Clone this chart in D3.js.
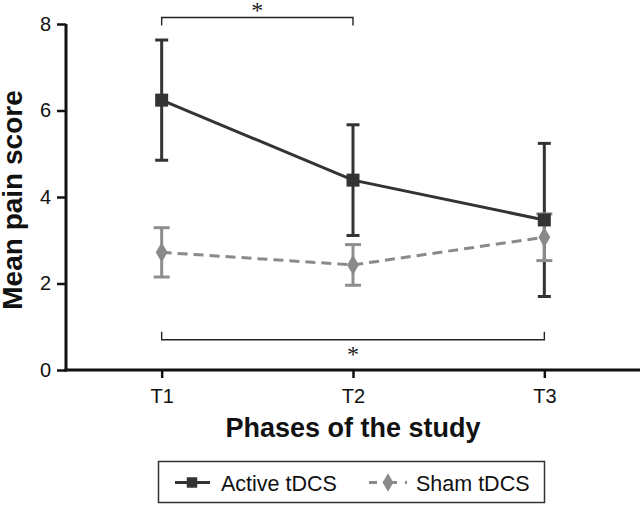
<!DOCTYPE html>
<html>
<head>
<meta charset="utf-8">
<script src="https://cdn.jsdelivr.net/npm/d3@7"></script>
<style>
  html, body { margin: 0; padding: 0; background: #fff; }
  svg { display: block; font-family: "Liberation Sans", Arial, Helvetica, sans-serif; }
</style>
</head>
<body>
<svg id="chart" width="642" height="505"></svg>
<script>
// ---- data ----
const categories = ["T1", "T2", "T3"];
const activeMean = [6.24, 4.39, 3.47];
const activeErr  = [1.39, 1.28, 1.77];
const shamMean   = [2.72, 2.43, 3.07];
const shamErr    = [0.57, 0.47, 0.54];
const yTicks = [0, 2, 4, 6, 8];
const seriesNames = ["Active tDCS", "Sham tDCS"];
const brackets = [
  { from: "T1", to: "T2", level: 8.15, dir: 1, label: "*" },
  { from: "T1", to: "T3", level: 0.70, dir: -1, label: "*" }
];

// ---- layout ----
const svg = d3.select("#chart");
const x = d3.scalePoint().domain(categories).range([66, 640]).padding(0.5);
const y = d3.scaleLinear().domain([0, 8]).range([370, 24]);

const activeColor = "#333333";
const shamColor = "#8a8a8a";
const shamErrColor = "#8e8e8e";
const axisColor = "#111111";

// axes (ticks + labels from d3.axis; axis lines drawn from the scale ranges)
const yAxis = d3.axisLeft(y).tickValues(yTicks).tickSize(9).tickSizeOuter(0).tickPadding(6);
const gy = svg.append("g").attr("transform", "translate(66,0)").call(yAxis);
const xAxis = d3.axisBottom(x).tickSize(8).tickSizeOuter(0).tickPadding(11);
const gx = svg.append("g").attr("transform", "translate(0,370)").call(xAxis);
[gx, gy].forEach(g => {
  g.select(".domain").remove();
  g.attr("font-size", 20).attr("font-family", "Liberation Sans, Arial, sans-serif");
  g.selectAll(".tick line").attr("stroke", axisColor).attr("stroke-width", 2.5);
  g.selectAll(".tick text").attr("fill", axisColor);
});
const axisLines = svg.append("g").attr("stroke", axisColor).attr("stroke-width", 3).attr("fill", "none");
axisLines.append("line")
  .attr("x1", x.range()[0]).attr("x2", x.range()[0])
  .attr("y1", y.range()[0] + 1.5).attr("y2", y.range()[1]);
axisLines.append("line")
  .attr("x1", x.range()[0] - 1.5).attr("x2", x.range()[1])
  .attr("y1", y.range()[0]).attr("y2", y.range()[0]);

// axis titles
svg.append("text")
  .attr("transform", "translate(22,200) rotate(-90)")
  .attr("text-anchor", "middle")
  .attr("font-size", 28).attr("font-weight", "bold").attr("fill", "#111")
  .text("Mean pain score");
svg.append("text")
  .attr("x", 353).attr("y", 437)
  .attr("text-anchor", "middle")
  .attr("font-size", 27).attr("font-weight", "bold").attr("fill", "#111")
  .text("Phases of the study");

// error bars
function errorBars(means, errs, color, capHalf) {
  const g = svg.append("g").attr("stroke", color).attr("stroke-width", 3).attr("fill", "none");
  categories.forEach((c, i) => {
    const cx = x(c), top = y(means[i] + errs[i]), bot = y(means[i] - errs[i]);
    g.append("line").attr("x1", cx).attr("x2", cx).attr("y1", top).attr("y2", bot);
    g.append("line").attr("x1", cx - capHalf).attr("x2", cx + capHalf).attr("y1", top).attr("y2", top);
    g.append("line").attr("x1", cx - capHalf).attr("x2", cx + capHalf).attr("y1", bot).attr("y2", bot);
  });
}
errorBars(activeMean, activeErr, activeColor, 6.5);
errorBars(shamMean, shamErr, shamErrColor, 8);

// lines
const line = d3.line().x(d => x(d[0])).y(d => y(d[1]));
svg.append("path")
  .datum(categories.map((c, i) => [c, activeMean[i]]))
  .attr("d", line).attr("fill", "none").attr("stroke", activeColor).attr("stroke-width", 3);
svg.append("path")
  .datum(categories.map((c, i) => [c, shamMean[i]]))
  .attr("d", line).attr("fill", "none").attr("stroke", shamColor).attr("stroke-width", 3)
  .attr("stroke-dasharray", "10,6");

// markers
const sq = d3.symbol().type(d3.symbolSquare).size(169);
const dia = d3.symbol().type(d3.symbolDiamond).size(120);
svg.append("g").selectAll("path").data(categories).join("path")
  .attr("transform", (c, i) => `translate(${x(c)},${y(activeMean[i])})`)
  .attr("d", sq).attr("fill", activeColor);
svg.append("g").selectAll("path").data(categories).join("path")
  .attr("transform", (c, i) => `translate(${x(c)},${y(shamMean[i])})`)
  .attr("d", dia).attr("fill", shamColor);

// significance brackets
brackets.forEach(b => {
  const x1 = x(b.from), x2 = x(b.to), yy = y(b.level);
  const leg = 8 * b.dir;
  svg.append("path")
    .attr("d", `M${x1},${yy + leg}V${yy}H${x2}V${yy + leg}`)
    .attr("fill", "none").attr("stroke", "#222").attr("stroke-width", 1.4);
  svg.append("text")
    .attr("x", (x1 + x2) / 2)
    .attr("y", b.dir > 0 ? yy : yy + 22)
    .attr("text-anchor", "middle")
    .attr("font-family", "Liberation Serif, Times New Roman, serif")
    .attr("font-size", 24).attr("fill", "#222")
    .text(b.label);
});

// legend
const lg = svg.append("g");
lg.append("rect").attr("x", 158.5).attr("y", 461.5).attr("width", 386).attr("height", 41)
  .attr("fill", "#fff").attr("stroke", "#333").attr("stroke-width", 1.5);
const ly = 482.5;
lg.append("line").attr("x1", 175).attr("x2", 210).attr("y1", ly).attr("y2", ly)
  .attr("stroke", activeColor).attr("stroke-width", 3);
lg.append("path").attr("transform", `translate(192,${ly})`)
  .attr("d", d3.symbol().type(d3.symbolSquare).size(110)).attr("fill", activeColor);
lg.append("text").attr("x", 221).attr("y", 490.5).attr("font-size", 21.5).attr("fill", "#111")
  .text(seriesNames[0]);
lg.append("line").attr("x1", 369).attr("x2", 407).attr("y1", ly).attr("y2", ly)
  .attr("stroke", shamColor).attr("stroke-width", 3).attr("stroke-dasharray", "8,6,14,8,3,0");
lg.append("path").attr("transform", `translate(388,${ly})`)
  .attr("d", d3.symbol().type(d3.symbolDiamond).size(100)).attr("fill", shamColor);
lg.append("text").attr("x", 416).attr("y", 490.5).attr("font-size", 21.5).attr("fill", "#111")
  .text(seriesNames[1]);
</script>
</body>
</html>
